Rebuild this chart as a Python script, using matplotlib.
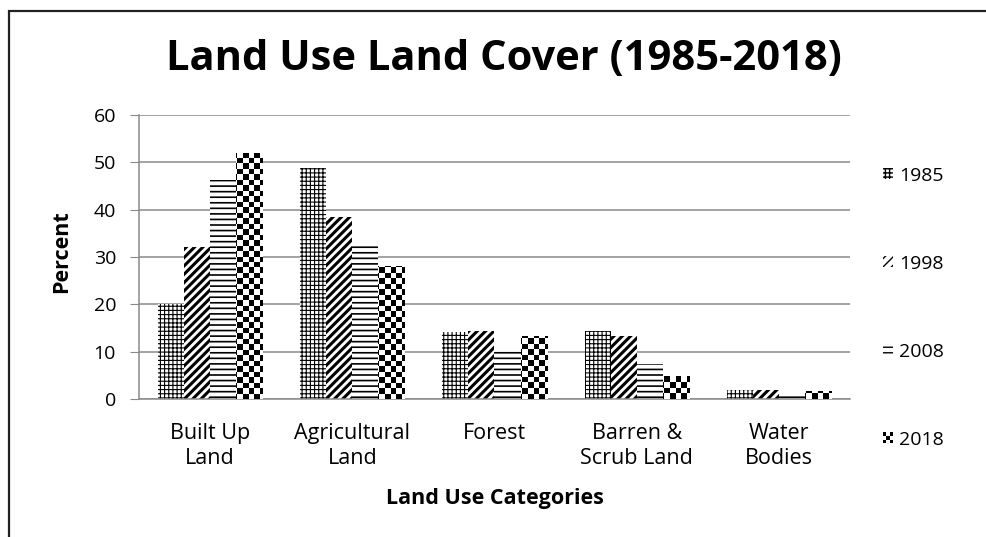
import numpy as np
import matplotlib
matplotlib.use("Agg")
import matplotlib.pyplot as plt
from matplotlib.patches import Rectangle
from matplotlib.legend_handler import HandlerBase

# ---------- Data (percent of area) ----------
categories = ["Built Up\nLand", "Agricultural\nLand", "Forest",
              "Barren &\nScrub Land", "Water\nBodies"]
years = ["1985", "1998", "2008", "2018"]
pct_1985 = [20.0, 48.8, 14.1, 14.4, 1.9]
pct_1998 = [32.0, 38.5, 14.3, 13.2, 1.9]
pct_2008 = [46.2, 32.4, 10.2, 7.4, 1.3]
pct_2018 = [52.0, 28.0, 13.2, 4.9, 1.6]

series = [pct_1985, pct_1998, pct_2008, pct_2018]
hatches = ["++++", "////", "---", None]
hatch_lw = [0.8, 2.2, 1.2, 1.0]

plt.rcParams["font.family"] = ["Open Sans", "DejaVu Sans"]

fig = plt.figure(figsize=(9.87, 5.37), dpi=100)
ax = fig.add_axes([0.1408, 0.257, 0.7204, 0.529])

x = np.arange(len(categories))
bw = 0.183
offsets = (np.arange(len(series)) - 1.5) * bw

bar_sets = []
for vals, off, h, lw, yr in zip(series, offsets, hatches, hatch_lw, years):
    with plt.rc_context({"hatch.linewidth": lw}):
        if h is None:
            bars = ax.bar(x + off, vals, bw, color="white", edgecolor="none",
                          linewidth=0, label=yr, zorder=2)
        else:
            bars = ax.bar(x + off, vals, bw, color="white", edgecolor="black",
                          linewidth=0, hatch=h, label=yr, zorder=2)
    bar_sets.append(bars)

# checkerboard texture for the 2018 bars, clipped to each bar
xlim = (-0.5, len(categories) - 0.5)
ylim = (0, 60)
checker = np.indices((52, 130)).sum(axis=0) % 2
for bar in bar_sets[3]:
    im = ax.imshow(checker, cmap="gray_r", interpolation="nearest",
                   extent=(*xlim, *ylim), aspect="auto", zorder=3, origin="lower")
    im.set_clip_path(bar)

ax.set_xlim(*xlim)
ax.set_ylim(*ylim)
ax.set_yticks(np.arange(0, 61, 10))
ax.yaxis.grid(True, color="#8a8a8a", lw=1.1)
ax.set_axisbelow(True)

for s in ["top", "right"]:
    ax.spines[s].set_visible(False)
for s in ["left", "bottom"]:
    ax.spines[s].set_color("#8a8a8a")
    ax.spines[s].set_linewidth(1.1)

ax.tick_params(axis="y", length=6.5, color="#8a8a8a", pad=10, labelsize=14)
ax.set_xticks(x)
ax.set_xticklabels(categories, fontsize=15.5, linespacing=1.25)
ax.tick_params(axis="x", length=0, pad=17)

ax.set_ylabel("Percent", fontsize=15.5, fontweight="bold")
ax.yaxis.set_label_coords(-0.094, 0.52)
ax.set_xlabel("Land Use Categories", fontsize=15.5, fontweight="bold")
ax.xaxis.label.set_va("center")
ax.xaxis.set_label_coords(0.5, -0.349)

fig.text(0.511, 1 - 60 / 537, "Land Use Land Cover (1985-2018)",
         ha="center", va="center", fontsize=30, fontweight="bold")


class CheckerHandler(HandlerBase):
    def create_artists(self, legend, orig_handle, xdescent, ydescent,
                       width, height, fontsize, trans):
        n = 3
        w, h = width / n, height / n
        cells = []
        for i in range(n):
            for j in range(n):
                if (i + j) % 2 == 0:
                    cells.append(Rectangle((-xdescent + i * w, -ydescent + j * h),
                                           w, h, facecolor="black", lw=0,
                                           transform=trans))
        return cells


handles = [bs[0] for bs in bar_sets]
ax.legend(handles, years, loc="center left", bbox_to_anchor=(1.046, 0.322),
          frameon=False, fontsize=14, handlelength=0.55, handleheight=0.55,
          handletextpad=0.3, labelspacing=3.6, borderpad=0, borderaxespad=0,
          handler_map={bar_sets[3][0]: CheckerHandler()})

# chart frame
fig.patches.append(Rectangle((9 / 987, -0.05), 1.1, 1 - 11 / 537 + 0.05,
                             transform=fig.transFigure, fill=False,
                             edgecolor="#222222", lw=1.6))

fig.savefig("out.png", dpi=100)
